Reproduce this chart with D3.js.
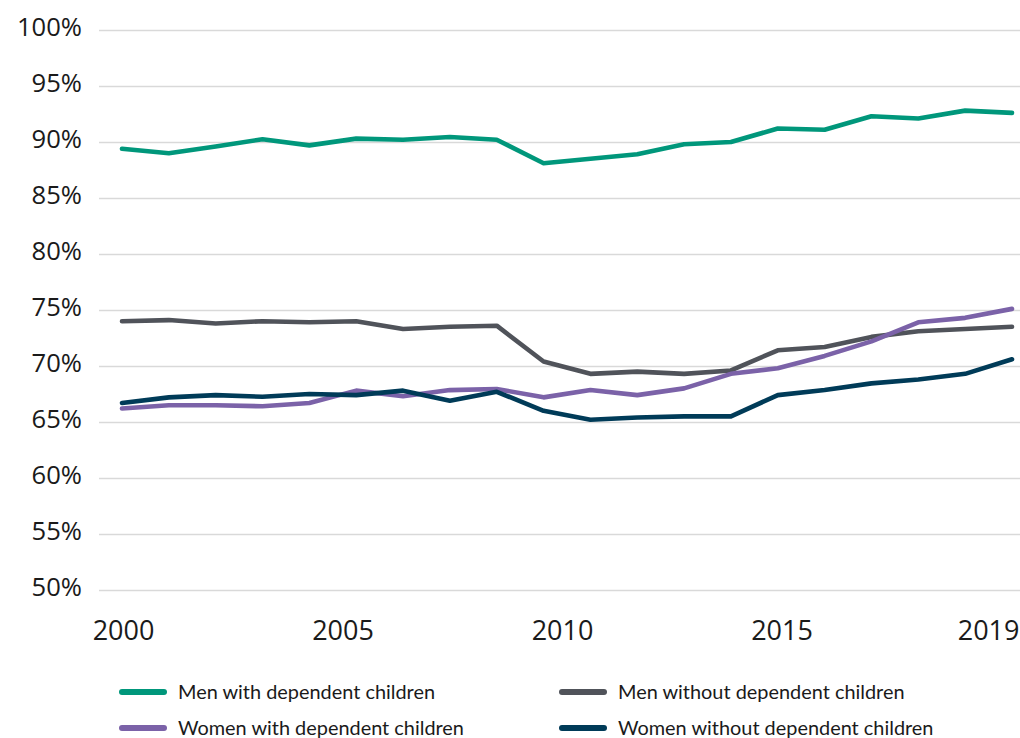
<!DOCTYPE html>
<html><head><meta charset="utf-8">
<script src="https://cdn.jsdelivr.net/npm/d3@7"></script>
<style>body{margin:0;background:#fff}svg{display:block}</style>
</head><body><svg id="c" width="1020" height="738"></svg>
<script>
const years = [2000,2001,2002,2003,2004,2005,2006,2007,2008,2009,2010,2011,2012,2013,2014,2015,2016,2017,2018,2019];
const menWith     = [89.4,89.0,89.6,90.25,89.7,90.3,90.2,90.45,90.2,88.1,88.5,88.9,89.8,90.0,91.2,91.1,92.3,92.1,92.8,92.6];
const menWithout  = [74.0,74.1,73.8,74.0,73.9,74.0,73.3,73.5,73.6,70.4,69.3,69.5,69.3,69.6,71.4,71.7,72.6,73.1,73.3,73.5];
const womenWith   = [66.2,66.5,66.5,66.4,66.7,67.8,67.3,67.85,67.95,67.2,67.85,67.4,68.0,69.3,69.8,70.9,72.2,73.9,74.3,75.1];
const womenWithout= [66.7,67.2,67.4,67.25,67.5,67.4,67.8,66.9,67.7,66.0,65.2,65.4,65.5,65.5,67.4,67.85,68.45,68.8,69.3,70.6];
const seriesNames = ["Men with dependent children","Men without dependent children","Women with dependent children","Women without dependent children"];
const seriesColors = ["#00977b","#50535a","#7b62a8","#003b58"];
const yTicks = [50,55,60,65,70,75,80,85,90,95,100];
const xTickLabels = ["2000","2005","2010","2015","2019"];

const series = [menWith, menWithout, womenWith, womenWithout].map((vals,i)=>({name:seriesNames[i], color:seriesColors[i], values:vals}));

const svg = d3.select("#c");
const mLeft = 99, mRight = 1020, mTop = 30, mBottom = 590;
const x = d3.scaleLinear().domain([years[0], years[years.length-1]]).range([122, 1012]);
const y = d3.scaleLinear().domain([50,100]).range([mBottom, mTop]);

// y axis + gridlines
const ya = svg.append("g").attr("transform",`translate(${mLeft},0)`)
  .call(d3.axisLeft(y).tickValues(yTicks).tickSize(-(mRight-mLeft)).tickPadding(17).tickFormat(d=>d+"%"));
ya.select(".domain").remove();
ya.selectAll(".tick line").attr("stroke","#d9d9d9").attr("stroke-width",1.5);
ya.selectAll(".tick text").attr("font-family","'Open Sans', sans-serif").attr("font-size",25.6).attr("fill","#1a1a1a").attr("dy","0.2em");

// x axis labels
const xl = d3.scalePoint().domain(xTickLabels).range([123, 1001]);
const xa = svg.append("g").attr("transform",`translate(0,${mBottom})`)
  .call(d3.axisBottom(xl).tickSize(0));
xa.select(".domain").remove();
xa.selectAll(".tick text").attr("font-family","'Open Sans', sans-serif").attr("font-size",27).attr("fill","#1a1a1a")
  .attr("y",50).attr("dy",0);
xa.selectAll(".tick text").filter(d=>d===xTickLabels[xTickLabels.length-1])
  .attr("text-anchor","end").attr("x", 1019 - xl(xTickLabels[xTickLabels.length-1]));

// lines
const line = d3.line().x((d,i)=>x(years[i])).y(d=>y(d));
svg.append("g").selectAll("path").data(series).join("path")
  .attr("d", d=>line(d.values)).attr("fill","none").attr("stroke",d=>d.color)
  .attr("stroke-width",4.6).attr("stroke-linecap","round").attr("stroke-linejoin","round");

// legend
const lg = svg.append("g");
const cols = [120, 560], rows = [692, 728];
series.forEach((s,k)=>{
  const cx = cols[k%2], cy = rows[Math.floor(k/2)];
  const g = lg.append("g").attr("transform",`translate(${cx},${cy})`);
  g.append("line").attr("x1",2).attr("x2",44).attr("y1",0).attr("y2",0)
    .attr("stroke",s.color).attr("stroke-width",6).attr("stroke-linecap","round");
  g.append("text").attr("x",58).attr("y",0).attr("dy","0.35em")
    .attr("font-family","Lato, sans-serif").attr("font-size",19.9).attr("fill","#1a1a1a")
    .text(s.name);
});
</script></body></html>
